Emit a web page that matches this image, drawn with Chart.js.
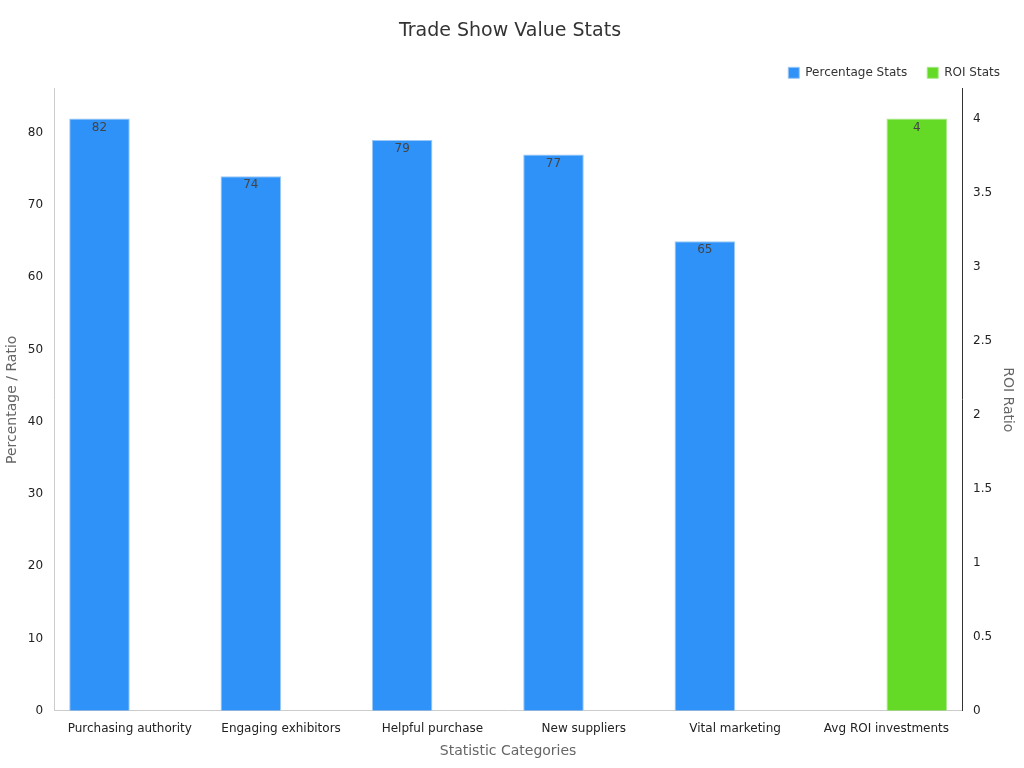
<!DOCTYPE html>
<html>
<head>
<meta charset="utf-8">
<script src="https://cdn.jsdelivr.net/npm/chart.js@4"></script>
<style>
  html, body { margin: 0; padding: 0; background: #fff; }
  #wrap { width: 1024px; height: 768px; }
</style>
</head>
<body>
<div id="wrap"><canvas id="c"></canvas></div>
<script>
const categories = ['Purchasing authority', 'Engaging exhibitors', 'Helpful purchase', 'New suppliers', 'Vital marketing', 'Avg ROI investments'];
const percentValues = [82, 74, 79, 77, 65, null];
const roiValues = [null, null, null, null, null, 4];

const valueLabels = {
  id: 'valueLabels',
  afterDatasetsDraw(chart) {
    const { ctx } = chart;
    ctx.save();
    ctx.font = '12px "DejaVu Sans", sans-serif';
    ctx.fillStyle = '#444';
    ctx.textAlign = 'center';
    ctx.textBaseline = 'top';
    chart.data.datasets.forEach((ds, i) => {
      chart.getDatasetMeta(i).data.forEach((bar, j) => {
        const v = ds.data[j];
        if (v == null) return;
        ctx.fillText(String(v), bar.x, bar.y + 3);
      });
    });
    ctx.restore();
  }
};

Chart.defaults.font.family = '"DejaVu Sans", sans-serif';

new Chart(document.getElementById('c'), {
  type: 'bar',
  data: {
    labels: categories,
    datasets: [
      { label: 'Percentage Stats', data: percentValues, backgroundColor: '#2f92f8', borderColor: '#9cc8f5', borderWidth: 1, yAxisID: 'y', categoryPercentage: 0.8, barPercentage: 1.0 },
      { label: 'ROI Stats', data: roiValues, backgroundColor: '#64d926', borderColor: '#a9e88a', borderWidth: 1, yAxisID: 'y1', categoryPercentage: 0.8, barPercentage: 1.0 }
    ]
  },
  options: {
    responsive: true,
    maintainAspectRatio: false,
    animation: false,
    layout: { padding: { left: 0, right: 4, top: 0, bottom: 4 } },
    plugins: {
      title: { display: true, text: 'Trade Show Value Stats', color: '#333', font: { size: 19, weight: 'normal' }, padding: { top: 20, bottom: 4 } },
      legend: {
        position: 'top', align: 'end',
        labels: { boxWidth: 11, boxHeight: 11, color: '#333', font: { size: 12 }, padding: 20 }
      },
      tooltip: { enabled: false }
    },
    scales: {
      x: {
        grid: { display: false },
        border: { color: '#ccc' },
        ticks: { color: '#222', font: { size: 12 } },
        title: { display: true, text: 'Statistic Categories', color: '#666', font: { size: 14 } }
      },
      y: {
        position: 'left', min: 0, max: 86.1,
        grid: { display: false, drawTicks: true },
        border: { color: '#ccc' },
        ticks: { stepSize: 10, color: '#222', font: { size: 12 }, callback: (v) => v % 10 === 0 ? v : '' },
        title: { display: true, text: 'Percentage / Ratio', color: '#666', font: { size: 14 } }
      },
      y1: {
        position: 'right', min: 0, max: 4.2,
        grid: { display: false },
        border: { color: '#333' },
        ticks: { stepSize: 0.5, color: '#222', font: { size: 12 }, callback: (v) => Math.abs(v * 2 - Math.round(v * 2)) < 1e-6 ? v : '' },
        title: { display: true, text: 'ROI Ratio', color: '#666', font: { size: 14 } }
      }
    }
  },
  plugins: [valueLabels]
});
</script>
</body>
</html>
